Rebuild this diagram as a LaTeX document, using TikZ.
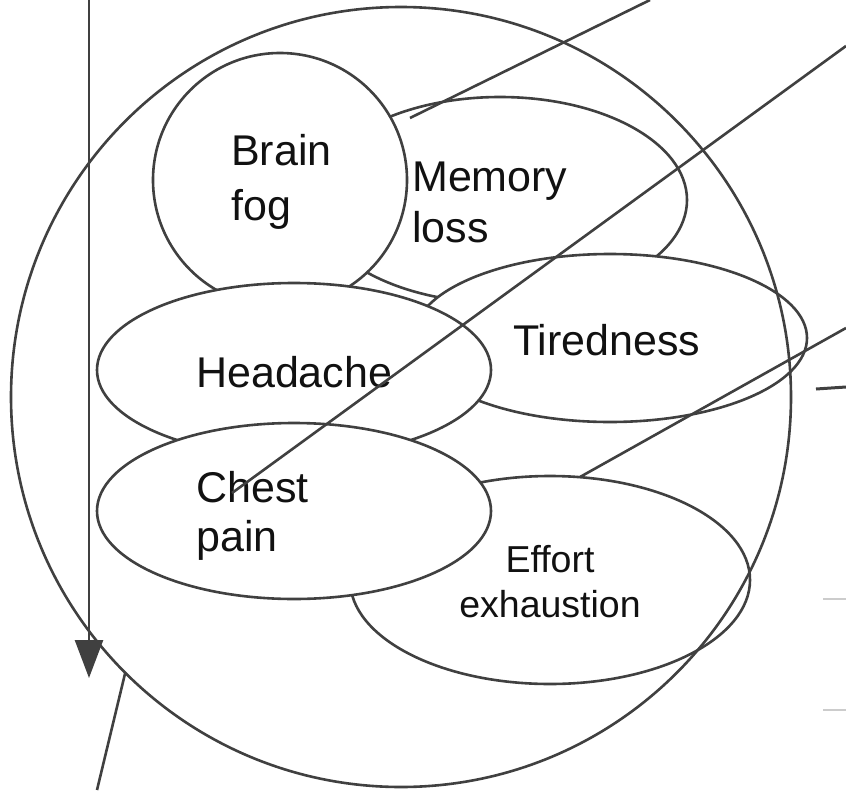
\documentclass[tikz,border=0pt]{standalone}
\usepackage{fontspec}
\setmainfont{Liberation Sans}
\usetikzlibrary{shapes.geometric,arrows.meta}
\definecolor{ln}{HTML}{404040}
\definecolor{tx}{HTML}{111111}
\begin{document}
\begin{tikzpicture}[x=1pt,y=-1pt,
  shp/.style={draw=ln,line width=2.6pt,fill=white,ellipse,inner sep=0pt,outer sep=0pt},
  lbl/.style={text=tx,font=\fontsize{43}{43}\selectfont,inner sep=0pt,anchor=base west},
  lbls/.style={text=tx,font=\fontsize{37.5}{37.5}\selectfont,inner sep=0pt,anchor=base},
  conn/.style={draw=ln,line width=2.6pt},
  faint/.style={draw=gray!40,line width=1.4pt}]
\useasboundingbox[fill=white] (0,0) rectangle (846,790);
% shapes, back to front
\node[shp,minimum width=374pt,minimum height=206pt] (mem) at (500,200) {};
\node[shp,circle,minimum size=254pt] (fog) at (280,180) {};
\node[shp,minimum width=394pt,minimum height=168pt] (tir) at (610,338) {};
\node[shp,minimum width=400pt,minimum height=208pt] (eff) at (550,580) {};
\node[shp,minimum width=394pt,minimum height=174pt] (head) at (294,370) {};
\node[shp,minimum width=394pt,minimum height=176pt] (chest) at (294,511) {};
\node[draw=ln,line width=2.6pt,circle,minimum size=780pt,inner sep=0pt,outer sep=0pt] (outer) at (401,397) {};
% labels
\node[lbl] (t1) at (231,165) {Brain};
\node[lbl] (t2) at (231,220) {fog};
\node[lbl] (t3) at (412,191) {Memory};
\node[lbl] (t4) at (412,242) {loss};
\node[lbl] (t5) at (196,387) {Headache};
\node[lbl] (t6) at (513,355) {Tiredness};
\node[lbl] (t7) at (196,502) {Chest};
\node[lbl] (t8) at (196,551) {pain};
\node[lbls] (t9) at (550,572) {Effort};
\node[lbls] (t10) at (550,617) {exhaustion};
% connectors
\coordinate (a1) at (89,0);
\coordinate (a2) at (89,678);
\draw[conn,-{Triangle[length=38pt,width=28pt]}] (a1) -- (a2);
\coordinate (b1) at (97,790);
\draw[conn] (b1) -- (outer.225);
\coordinate (c1) at (650,0);
\coordinate (c2) at (410,118);
\draw[conn] (c1) -- (c2);
\coordinate (d1) at (846,46);
\coordinate (d2) at (232,493);
\draw[conn] (d1) -- (d2);
\coordinate (e1) at (846,328);
\coordinate (e2) at (580,477);
\draw[conn] (e1) -- (e2);
\coordinate (f1) at (816,389);
\coordinate (f2) at (846,387);
\draw[conn,line width=3pt] (f1) -- (f2);
\coordinate (g1) at (823,599);
\coordinate (g2) at (846,599);
\draw[faint] (g1) -- (g2);
\coordinate (h1) at (823,710);
\coordinate (h2) at (846,710);
\draw[faint] (h1) -- (h2);
\end{tikzpicture}
\end{document}
